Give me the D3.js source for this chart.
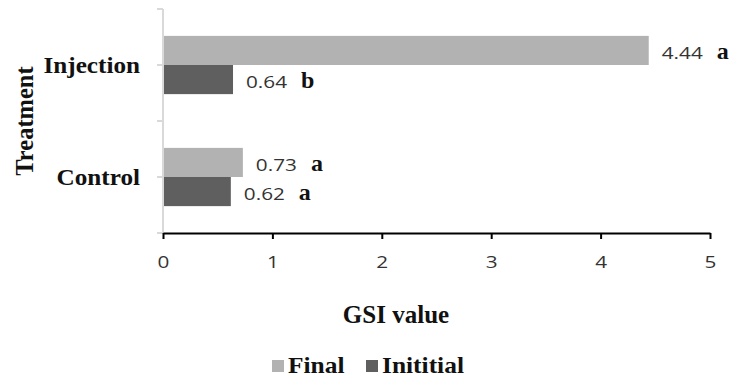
<!DOCTYPE html>
<html><head><meta charset="utf-8">
<script src="https://cdn.jsdelivr.net/npm/d3@7"></script>
<style>body{margin:0;background:#fff}</style>
</head><body>
<svg id="c" width="734" height="377"></svg>
<script>
const categories = ["Injection", "Control"];
const seriesNames = ["Final", "Inititial"];
const finalValues = [4.44, 0.73];
const initialValues = [0.64, 0.62];
const finalLetters = ["a", "a"];
const initialLetters = ["b", "a"];
const xTicks = [0, 1, 2, 3, 4, 5];
const colors = ["#b2b2b2", "#5f5f5f"];

const svg = d3.select("#c");
const mLeft = 163, mRight = 710, mTop = 9, mBottom = 233;
const x = d3.scaleLinear().domain([0, 5]).range([mLeft, mRight]);
const y = d3.scaleBand().domain(categories).range([mTop, mBottom]).paddingInner(0.48).paddingOuter(0.24);
const sub = d3.scaleBand().domain(seriesNames).range([0, y.bandwidth()]);
const SX = 1.22; // horizontal stretch of the sans text
const serif = "Liberation Serif";
const sans = "Open Sans";

function stretchedText(parent, px, py, sx, str) {
  return parent.append("text").attr("transform", `translate(${px},${py}) scale(${sx},1)`).text(str);
}

// y axis (light gray)
const yAxis = svg.append("g").attr("transform", `translate(${mLeft},0)`);
yAxis.append("line").attr("x1", 0).attr("x2", 0).attr("y1", mTop).attr("y2", mBottom).attr("stroke", "#d9d9d9").attr("stroke-width", 2);
const yTickPos = [mTop, (mTop + mBottom) / 2, mBottom].concat(categories.map(c => y(c) + y.bandwidth() / 2));
yTickPos.forEach(p => yAxis.append("line").attr("x1", -6).attr("x2", 0).attr("y1", p).attr("y2", p).attr("stroke", "#d9d9d9").attr("stroke-width", 2));

const data = categories.map((c, i) => ({cat: c, vals: [
  {s: seriesNames[0], v: finalValues[i], l: finalLetters[i]},
  {s: seriesNames[1], v: initialValues[i], l: initialLetters[i]}]}));

const g = svg.append("g");
data.forEach(d => {
  d.vals.forEach((e, j) => {
    const yy = y(d.cat) + sub(e.s);
    g.append("rect").attr("x", x(0) + 1).attr("y", yy).attr("width", x(e.v) - x(0) - 1).attr("height", sub.bandwidth()).attr("fill", colors[j]);
    const tx = x(e.v) + 13;
    const by = yy + sub.bandwidth() / 2 + 8.5;
    const t = stretchedText(g, tx, by, SX, e.v.toFixed(2))
      .attr("font-family", sans).attr("font-size", 17).attr("fill", "#333");
    const w = t.node().getComputedTextLength() * SX;
    stretchedText(g, tx + w + 14, by, 1.0, e.l)
      .attr("font-family", serif).attr("font-weight", "bold").attr("font-size", 24).attr("fill", "#111");
  });
  stretchedText(g, mLeft - 23, y(d.cat) + y.bandwidth() / 2 + 8, 1.05, d.cat).attr("text-anchor", "end")
    .attr("font-family", serif).attr("font-weight", "bold").attr("font-size", 24).attr("fill", "#111");
});

// x axis
const xa = svg.append("g").attr("transform", `translate(0,${mBottom})`)
  .call(d3.axisBottom(x).tickValues(xTicks).tickFormat(d3.format("d")).tickSize(6).tickSizeOuter(0).tickPadding(12));
xa.select(".domain").attr("stroke", "#000").attr("stroke-width", 2);
xa.selectAll(".tick line").attr("stroke", "#000").attr("stroke-width", 2);
xa.selectAll(".tick text").attr("font-family", sans).attr("font-size", 17).attr("fill", "#333")
  .attr("transform", `scale(${SX},1)`).attr("x", 0).attr("dy", null).attr("y", 35);

stretchedText(svg, 396, 323, 1.0, "GSI value").attr("text-anchor", "middle")
  .attr("font-family", serif).attr("font-weight", "bold").attr("font-size", 25).attr("fill", "#111");
svg.append("text").attr("transform", "translate(33,121) rotate(-90)").attr("text-anchor", "middle")
  .attr("font-family", serif).attr("font-weight", "bold").attr("font-size", 24.5).attr("fill", "#111").text("Treatment");

// legend
const legX = [272, 366];
seriesNames.forEach((s, i) => {
  svg.append("rect").attr("x", legX[i]).attr("y", 360).attr("width", 12).attr("height", 12).attr("fill", colors[i]);
  stretchedText(svg, legX[i] + 16, 373, 1.06, s).attr("font-family", serif).attr("font-weight", "bold")
    .attr("font-size", 24).attr("fill", "#111");
});
</script>
</body></html>
